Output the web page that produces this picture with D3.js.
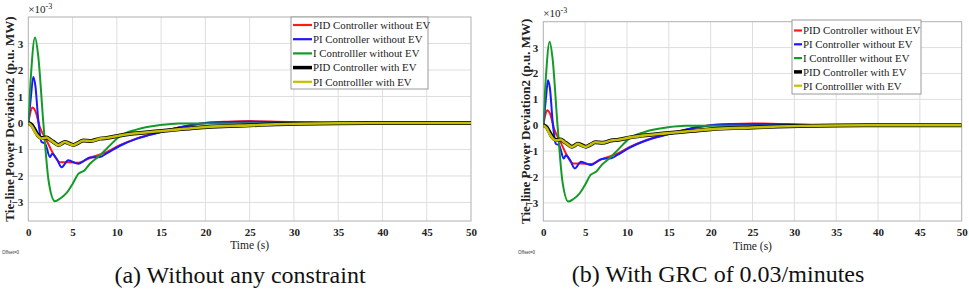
<!DOCTYPE html>
<meta charset="utf-8">
<title>Tie-line power deviation</title>
<style>
body { margin: 0; background: #fff; }
svg { display: block; }
</style>
<svg width="969" height="290" font-family="Liberation Serif"></svg>
<script src="https://d3js.org/d3.v7.min.js"></script>
<script>
// values in units of 1e-3 p.u. MW
var seriesNames = ["PID Controller without EV", "PI Controller without EV", "I Controlller without EV",
                   "PID Controller with EV", "PI Controlller with EV"];
var seriesColors = ["#ff1a1a", "#1a1aff", "#149a28", "#000000", "#c4bf00"];

var tRed = [0, 0.2, 0.45, 0.8, 1.3, 2.07, 2.82, 3.58, 4.5, 5.65, 6.96, 8.85, 10.35, 12.2, 14.9, 17, 20, 22.5, 25, 28, 31, 35, 40, 45, 50];
var vRed = [0, 0.35, 0.58, 0.45, -0.15, -0.66, -1.16, -1.48, -1.48, -1.5, -1.32, -1.1, -0.84, -0.59, -0.34, -0.17, 0, 0.05, 0.07, 0.05, 0.02, 0, 0, 0, 0];

var tBlue = [0, 0.3, 0.56, 0.8, 1.13, 1.5, 1.9, 2.45, 2.7, 3.2, 3.77, 4.5, 5.65, 6.96, 8.1, 8.85, 10.35, 12.2, 14.9, 17, 20, 22.5, 25, 28, 31, 35, 40, 45, 50];
var vBlue = [0, 1.0, 1.74, 1.4, 0.1, -0.72, -0.78, -1.29, -1.16, -1.35, -1.67, -1.41, -1.54, -1.3, -1.28, -1.15, -0.86, -0.6, -0.35, -0.17, 0, 0.04, 0.05, 0.04, 0.02, 0, 0, 0, 0];

var tGreen = [0, 0.3, 0.76, 1.1, 1.7, 2.3, 3.0, 3.6, 4.3, 5.0, 5.65, 6.3, 6.96, 8.0, 8.85, 10.35, 12.2, 14.9, 17, 20, 25, 30, 35, 40, 45, 50];
var vGreen = [0, 1.8, 3.23, 2.6, 0, -2.2, -2.95, -2.85, -2.65, -2.3, -1.92, -1.8, -1.54, -1.25, -0.97, -0.5, -0.25, -0.08, -0.02, -0.02, -0.02, -0.01, 0, 0, 0, 0];

var tEV = [0, 0.4, 0.76, 1.1, 1.5, 2.07, 2.5, 2.82, 3.4, 4.14, 4.6, 5.08, 5.6, 6.2, 7.1, 8.1, 9.0, 10.35, 11.85, 13.5, 15.05, 17, 19.4, 22, 25, 28, 30.6, 35, 40, 45, 50];
var vBlack = [0, -0.08, -0.28, -0.47, -0.57, -0.55, -0.64, -0.71, -0.83, -0.72, -0.77, -0.83, -0.76, -0.66, -0.68, -0.59, -0.56, -0.47, -0.4, -0.35, -0.3, -0.24, -0.17, -0.12, -0.09, -0.05, -0.03, -0.01, 0, 0, 0];
var vYellow = [0, -0.12, -0.34, -0.5, -0.59, -0.55, -0.65, -0.72, -0.84, -0.72, -0.78, -0.84, -0.76, -0.66, -0.68, -0.59, -0.56, -0.47, -0.4, -0.35, -0.3, -0.24, -0.17, -0.12, -0.09, -0.05, -0.03, -0.01, 0, 0, 0];

var xTicks = d3.range(0, 51, 5);
var yTicks = [-3, -2, -1, 0, 1, 2, 3];

var series = [
  { t: tRed, v: vRed, width: 2 },
  { t: tBlue, v: vBlue, width: 2 },
  { t: tGreen, v: vGreen, width: 2 },
  { t: tEV, v: vBlack, width: 4 },
  { t: tEV, v: vYellow, width: 2.6 }
];

var FONT = "Liberation Serif";
var svg = d3.select("svg");

var panels = [
  { left: 28.3, right: 471, top: 17, bottom: 221, ylab: 9, caption: "(a) Without any constraint", capX: 240, capY: 283,
    timeY: 249, offX: 2, legX: 291, legY: 17, legW: 137, legH: 72, legFirst: 8, legStep: 14.2, sample: 19, expY: 13 },
  { left: 543.3, right: 961.7, top: 21.7, bottom: 221, ylab: 525.5, caption: "(b) With GRC of 0.03/minutes", capX: 718, capY: 282,
    timeY: 250, offX: 518, legX: 792, legY: 20, legW: 129, legH: 74, legFirst: 10.5, legStep: 13.8, sample: 8, expY: 17 }
];

panels.forEach(function(p, pi) {
  var x = d3.scaleLinear().domain([0, 50]).range([p.left, p.right]);
  var y = d3.scaleLinear().domain([-3.7, 4]).range([p.bottom, p.top]);
  var g = svg.append("g");

  g.append("rect").attr("x", p.left).attr("y", p.top)
    .attr("width", p.right - p.left).attr("height", p.bottom - p.top).attr("fill", "#fff");

  // grid
  g.selectAll(".gx").data(xTicks.slice(1, -1)).enter().append("line")
    .attr("x1", x).attr("x2", x).attr("y1", p.top).attr("y2", p.bottom)
    .attr("stroke", "#dedede").attr("stroke-width", 1);
  g.selectAll(".gy").data(yTicks).enter().append("line")
    .attr("x1", p.left).attr("x2", p.right).attr("y1", y).attr("y2", y)
    .attr("stroke", "#dedede").attr("stroke-width", 1);

  // axes
  var xa = g.append("g").attr("transform", "translate(0," + p.bottom + ")")
    .call(d3.axisBottom(x).tickValues(xTicks).tickSize(0).tickPadding(7));
  var ya = g.append("g").attr("transform", "translate(" + p.left + ",0)")
    .call(d3.axisLeft(y).tickValues(yTicks).tickSize(0).tickPadding(5));
  [xa, ya].forEach(function(a) {
    a.attr("font-family", FONT);
    a.select(".domain").remove();
    a.selectAll("text").attr("font-family", FONT).attr("font-size", 11)
      .attr("font-weight", "bold").attr("fill", "#222");
  });

  g.append("rect").attr("x", p.left).attr("y", p.top)
    .attr("width", p.right - p.left).attr("height", p.bottom - p.top)
    .attr("fill", "none").attr("stroke", "#b0b0b0").attr("stroke-width", 1);

  // lines
  var clipId = "clip" + pi;
  g.append("clipPath").attr("id", clipId).append("rect")
    .attr("x", p.left).attr("y", p.top).attr("width", p.right - p.left).attr("height", p.bottom - p.top);

  var line = d3.line()
    .x(function(d) { return x(d[0]); })
    .y(function(d) { return y(d[1]); })
    .curve(d3.curveMonotoneX);

  g.append("g").attr("clip-path", "url(#" + clipId + ")")
    .selectAll("path").data(series).enter().append("path")
    .attr("d", function(s) { return line(d3.zip(s.t, s.v)); })
    .attr("fill", "none")
    .attr("stroke", function(s, i) { return seriesColors[i]; })
    .attr("stroke-width", function(s) { return s.width; })
    .attr("stroke-linejoin", "round");

  // legend
  var lg = g.append("g").attr("transform", "translate(" + p.legX + "," + p.legY + ")");
  lg.append("rect").attr("width", p.legW).attr("height", p.legH)
    .attr("fill", "#fff").attr("stroke", "#9a9a9a").attr("stroke-width", 1);
  seriesNames.forEach(function(name, i) {
    var yy = p.legFirst + i * p.legStep;
    lg.append("line").attr("x1", 2).attr("x2", 2 + p.sample).attr("y1", yy).attr("y2", yy)
      .attr("stroke", seriesColors[i]).attr("stroke-width", i === 3 ? 3.5 : 2.2);
    lg.append("text").attr("x", 3 + p.sample).attr("y", yy + 3.8).attr("font-family", FONT).attr("font-size", 10.8)
      .attr("fill", "#222").text(name);
  });

  // labels
  g.append("text")
    .attr("transform", "translate(" + p.ylab + "," + ((p.top + p.bottom) / 2) + ") rotate(-90)")
    .attr("text-anchor", "middle").attr("dy", "0.35em").attr("font-family", FONT)
    .attr("font-size", 13).attr("font-weight", "bold").attr("fill", "#222")
    .text("Tie-line Power Deviation2 (p.u. MW)");

  var ex = g.append("text").attr("x", p.left).attr("y", p.expY).attr("font-family", FONT)
    .attr("font-size", 11).attr("fill", "#222");
  ex.append("tspan").text("\u00d710");
  ex.append("tspan").attr("dy", -4).attr("font-size", 8).text("-3");

  g.append("text").attr("x", (p.left + p.right) / 2).attr("y", p.timeY).attr("font-family", FONT)
    .attr("text-anchor", "middle").attr("font-size", 11.5).attr("fill", "#222").text("Time (s)");

  g.append("text").attr("x", p.offX).attr("y", 254).attr("font-family", "Liberation Sans")
    .attr("font-size", 4.5).attr("fill", "#333").text("Offset=0");

  g.append("text").attr("x", p.capX).attr("y", p.capY).attr("text-anchor", "middle").attr("font-family", FONT)
    .attr("font-size", 24).attr("fill", "#111").text(p.caption);
});
</script>
